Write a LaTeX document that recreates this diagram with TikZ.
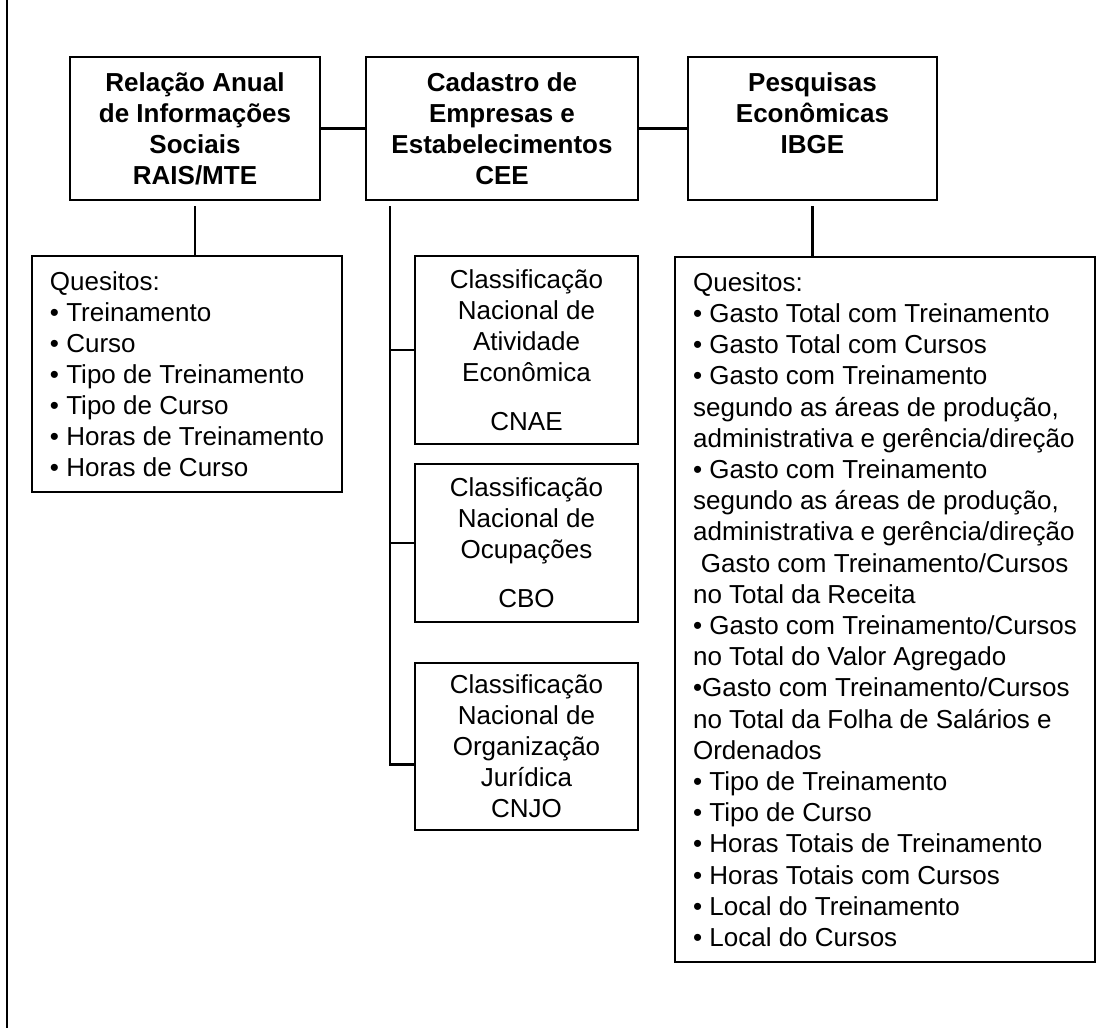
\documentclass[tikz,border=0pt]{standalone}
\usepackage{fontspec}
\setmainfont{Liberation Sans}
\usepackage{tikz}

\newcommand{\boxfont}{\fontsize{26}{31}\selectfont}
\newcommand{\listfont}{\fontsize{26}{31.2}\selectfont}

\begin{document}
\begin{tikzpicture}[x=1pt,y=-1pt,line width=2.5pt,
  fonte/.style={draw,align=center,font=\boxfont\bfseries,minimum height=143pt,inner sep=0pt},
  classe/.style={draw,align=center,font=\boxfont,minimum width=223pt,inner sep=0pt},
  quesitos/.style={draw,align=left,font=\boxfont,inner sep=0pt}]
\useasboundingbox (0,0) rectangle (1119,1028);
\coordinate (frametop) at (7,0);
\coordinate (framebot) at (7,1028);
\node[fonte,minimum width=250pt] (rais) at (195,128.5) {Relação Anual\\de Informações\\Sociais\\RAIS/MTE};
\node[fonte,minimum width=272pt] (cee) at (502,128.5) {Cadastro de\\Empresas e\\Estabelecimentos\\CEE};
\node[fonte,minimum width=249pt] (ibge) at (812.5,128.5) {Pesquisas\\Econômicas\\IBGE\\\vphantom{/}};
\node[quesitos,minimum width=310pt,minimum height=236pt] (qrais) at (187,374)
  {Quesitos:\\• Treinamento\\• Curso\\• Tipo de Treinamento\\• Tipo de Curso\\• Horas de Treinamento\\• Horas de Curso};
\node[classe,minimum height=188pt] (cnae) at (526.5,350) {Classificação\\Nacional de\\Atividade\\Econômica\\[18pt]CNAE};
\node[classe,minimum height=158pt] (cbo) at (526.5,543) {Classificação\\Nacional de\\Ocupações\\[18pt]CBO};
\node[classe,minimum height=167pt] (cnjo) at (526.5,746.5) {Classificação\\Nacional de\\Organização\\Jurídica\\CNJO};
\node[quesitos,minimum width=420pt,minimum height=705pt,font=\listfont] (qibge) at (885,609.5)
  {Quesitos:\\• Gasto Total com Treinamento\\• Gasto Total com Cursos\\• Gasto com Treinamento\\segundo as áreas de produção,\\administrativa e gerência/direção\\• Gasto com Treinamento\\segundo as áreas de produção,\\administrativa e gerência/direção\\\hspace*{0.3em}Gasto com Treinamento/Cursos\\no Total da Receita\\• Gasto com Treinamento/Cursos\\no Total do Valor Agregado\\•Gasto com Treinamento/Cursos\\no Total da Folha de Salários e\\Ordenados\\• Tipo de Treinamento\\• Tipo de Curso\\• Horas Totais de Treinamento\\• Horas Totais com Cursos\\• Local do Treinamento\\• Local do Cursos};
\draw (frametop) -- (framebot);
\draw (rais.east) -- (cee.west);
\draw (cee.east) -- (ibge.west);
\draw ([yshift=-5pt]rais.south) -- (rais.south |- qrais.north);
\draw ([yshift=-5pt]ibge.south) -- (ibge.south |- qibge.north);
\coordinate (trunk) at ([xshift=25pt,yshift=-5pt]cee.south west);
\coordinate (cnjoin) at ([yshift=-18pt]cnjo.west);
\draw (trunk) |- (cnjoin);
\foreach \c in {cnae,cbo}
  \draw (trunk |- \c.west) -- (\c.west);
\end{tikzpicture}
\end{document}
